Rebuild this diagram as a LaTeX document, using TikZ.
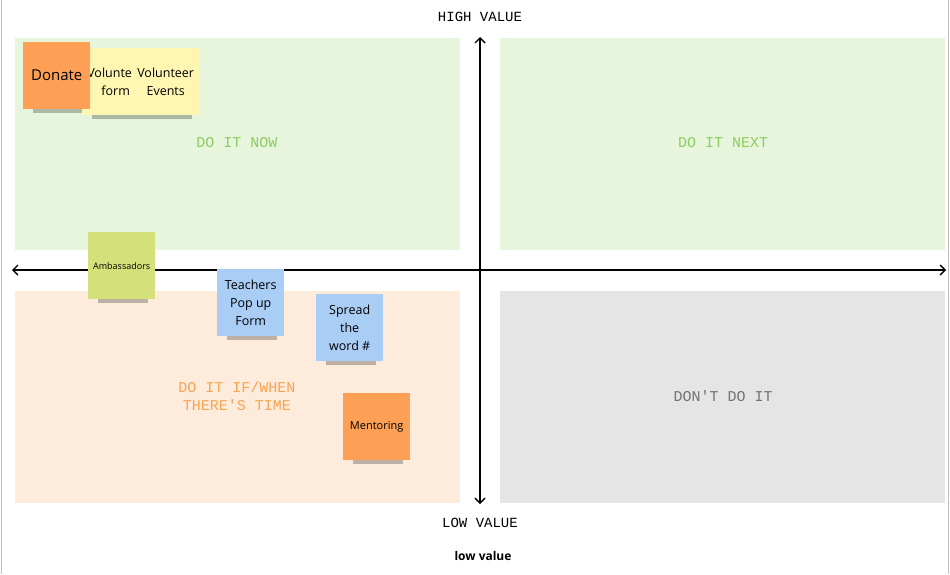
\documentclass[tikz,border=0pt]{standalone}
\usepackage{fontspec}
\setmainfont{Open Sans}
\setmonofont{Liberation Mono}
\usetikzlibrary{arrows.meta}
\definecolor{qgreen}{RGB}{232,245,221}
\definecolor{qorange}{RGB}{253,235,220}
\definecolor{qgray}{RGB}{229,229,229}
\definecolor{tgreen}{RGB}{140,205,95}
\definecolor{torange}{RGB}{245,165,85}
\definecolor{tgray}{RGB}{115,115,115}
\definecolor{sorange}{RGB}{253,160,85}
\definecolor{syellow}{RGB}{255,246,178}
\definecolor{sgreen}{RGB}{212,225,122}
\definecolor{sblue}{RGB}{170,205,245}
\begin{document}
\begin{tikzpicture}[x=1pt,y=-1pt,
  qlabel/.style={font=\ttfamily\fontsize{15}{18}\selectfont,align=center},
  axlabel/.style={font=\ttfamily\fontsize{14}{16}\selectfont},
  sticky/.style={minimum width=67pt,minimum height=67pt,inner sep=1pt,align=center,font=\fontsize{12.5}{18}\selectfont},
  shadow/.style={fill=black,opacity=0.25},
  ax/.style={line width=1.4pt,{Straight Barb[length=5pt]}-{Straight Barb[length=5pt]}}]
\useasboundingbox (0,0) rectangle (950,574);
\fill[white] (0,0) rectangle (950,574);
\draw[black!25] (1.5,0) -- (1.5,574);
\draw[black!25] (948.5,0) -- (948.5,574);
\fill[qgreen] (15,38) rectangle (460,250);
\fill[qgreen] (500,38) rectangle (945,250);
\fill[qorange] (15,291) rectangle (460,503);
\fill[qgray] (500,291) rectangle (945,503);
\node[qlabel,text=tgreen] (n1) at (237,143) {DO IT NOW};
\node[qlabel,text=tgreen] (n2) at (723,143) {DO IT NEXT};
\node[qlabel,text=torange] (n3) at (237,396) {DO IT IF/WHEN\\THERE'S TIME};
\node[qlabel,text=tgray] (n4) at (723,396) {DON'T DO IT};
\node[axlabel] (hv) at (480,17) {HIGH VALUE};
\node[axlabel] (lv) at (480,523) {LOW VALUE};
\node[font=\bfseries\fontsize{12}{14}\selectfont] (lv2) at (483,556) {low value};
\coordinate (l) at (12,270); \coordinate (r) at (946,270);
\coordinate (t) at (480,37); \coordinate (b) at (480,504);
\draw[ax] (l) -- (r);
\draw[ax] (t) -- (b);
\foreach \x/\y in {132/48,82/48,23/42,88/232,217/269,316/294,343/393}{
  \fill[shadow] (\x+10,\y+66) rectangle (\x+60,\y+71);}
\begin{scope}
\clip (82,48) rectangle (132,116);
\node[sticky,fill=syellow,anchor=north west] (vf) at (82,48) {Volunteer\\form};
\end{scope}
\node[sticky,fill=syellow,anchor=north west] (ve) at (132,48) {Volunteer\\Events};
\node[sticky,fill=sorange,anchor=north west,font=\fontsize{15}{18}\selectfont] (don) at (23,42) {Donate};
\node[sticky,fill=sgreen,anchor=north west,font=\fontsize{9}{11}\selectfont] (amb) at (88,232) {Ambassadors};
\node[sticky,fill=sblue,anchor=north west] (tea) at (217,269) {Teachers\\Pop up\\Form};
\node[sticky,fill=sblue,anchor=north west] (spr) at (316,294) {Spread\\the\\word \#};
\node[sticky,fill=sorange,anchor=north west,font=\fontsize{11}{13}\selectfont] (men) at (343,393) {Mentoring};
\end{tikzpicture}
\end{document}
